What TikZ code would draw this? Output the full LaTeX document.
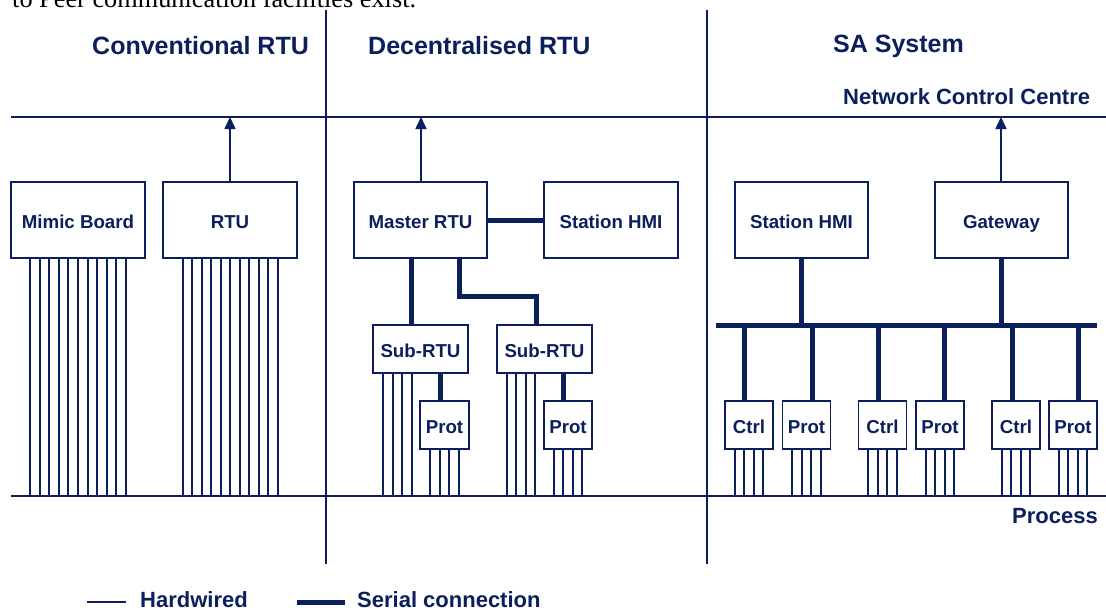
\documentclass[tikz,border=0pt]{standalone}
\usepackage{fontspec}
\setmainfont{Liberation Sans}
\newfontfamily\serifrm{Liberation Serif}
\usetikzlibrary{arrows.meta,calc}
\definecolor{navy}{HTML}{0B1F5C}
\tikzset{
  wire/.style={draw=navy, line width=1.6pt},
  serial/.style={draw=navy, line width=5pt},
  box/.style={draw=navy, line width=1.5pt, fill=white, inner sep=0pt, text=navy,
              text height=16pt, text depth=0pt,
              font=\bfseries\fontsize{18.7}{22}\selectfont},
  bigbox/.style={box, minimum width=134pt, minimum height=76pt},
  smallbox/.style={box, minimum width=48pt, minimum height=48pt},
  subbox/.style={box, minimum width=95pt, minimum height=48pt},
  ttl/.style={text=navy, font=\bfseries\fontsize{25}{30}\selectfont, inner sep=0pt},
  lbltext/.style={text=navy, font=\bfseries\fontsize{22}{26}\selectfont, inner sep=0pt},
  up/.style={wire, -{Triangle[width=11pt,length=12pt]}},
}
\newcommand\hwires[2]{\foreach \d in {#2}{\draw[wire] ($(#1.south)+(\d,0)$) -- ($(#1.south |- pL)+(\d,0)$);}}
\begin{document}
\begin{tikzpicture}[x=1pt,y=-1pt]
\useasboundingbox (0,0) rectangle (1106,613);
\clip (0,0) rectangle (1106,613);

% cut-off text at the top
\node[anchor=base west, inner sep=0pt, font=\serifrm\fontsize{26.3}{30}\selectfont] (cut) at (12,7) {to Peer communication facilities exist.};

% frame lines
\coordinate (nccL) at (11,117); \coordinate (nccR) at (1106,117);
\coordinate (pL) at (11,496);   \coordinate (pR) at (1106,496);
\coordinate (d1t) at (326,10);  \coordinate (d1b) at (326,564);
\coordinate (d2t) at (707,10);  \coordinate (d2b) at (707,564);
\draw[wire] (nccL) -- (nccR);
\draw[wire] (pL) -- (pR);
\draw[wire] (d1t) -- (d1b);
\draw[wire] (d2t) -- (d2b);

% titles
\node[ttl, anchor=base west] (t1) at (92,54) {Conventional RTU};
\node[ttl, anchor=base west] (t2) at (368,54) {Decentralised RTU};
\node[ttl, anchor=base west] (t3) at (833,52) {SA System};
\node[lbltext, anchor=base west] (ncc) at (843,104) {Network Control Centre};
\node[lbltext, anchor=base east] (proc) at (1098,523) {Process};

% big boxes
\node[bigbox] (mimic) at (78,220) {Mimic Board};
\node[bigbox] (rtu) at (230,220) {RTU};
\node[bigbox, minimum width=133pt] (master) at (420.5,220) {Master RTU};
\node[bigbox] (hmi1) at (611,220) {Station HMI};
\node[bigbox, minimum width=133pt] (hmi2) at (801.5,220) {Station HMI};
\node[bigbox, minimum width=133pt] (gw) at (1001.5,220) {Gateway};

% decentralised sub units
\node[subbox] (sub1) at (420.5,349) {Sub-RTU};
\node[subbox] (sub2) at (544.5,349) {Sub-RTU};
\node[smallbox, minimum width=49pt] (prot1) at (444.5,425) {Prot};
\node[smallbox] (prot2) at (568,425) {Prot};

% SA bay units
\node[smallbox] (c1) at (749,425) {Ctrl};
\node[smallbox] (q1) at (806.5,425) {Prot};
\node[smallbox] (c2) at (882.5,425) {Ctrl};
\node[smallbox] (q2) at (940,425) {Prot};
\node[smallbox] (c3) at (1016,425) {Ctrl};
\node[smallbox] (q3) at (1073,425) {Prot};

% arrows to network control centre
\draw[up] (rtu.north) -- (rtu.north |- nccL);
\draw[up] ($(master.north)+(0.5,0)$) coordinate (ma) -- (ma |- nccL);
\draw[up] ($(gw.north)+(-0.5,0)$) coordinate (ga) -- (ga |- nccL);

% hardwired connections
\hwires{mimic}{-48,-38,-29,-19,-10,0,10,19,29,38,48}
\hwires{rtu}{-47,-38,-28,-19,-9,0,10,19,29,38,48}
\hwires{sub1}{-37.5,-27.5,-18.5,-8.5}
\hwires{sub2}{-37.5,-28.5,-18.5,-9.5}
\foreach \n in {prot1,c2,q1}{\hwires{\n}{-14.5,-4.5,4.5,14.5}}
\foreach \n in {prot2,c1,q2,c3,q3}{\hwires{\n}{-14,-5,5,14}}

% serial connections (decentralised)
\draw[serial] (master.east) -- (hmi1.west);
\draw[serial] ($(master.south)+(-9.5,0)$) coordinate (m1) -- (m1 |- sub1.north);
\draw[serial] ($(master.south)+(38.5,0)$) -- ++(0,38) -| ($(sub2.north)+(-8.5,0)$);
\draw[serial] ($(prot1.north)+(-4.5,0)$) coordinate (p1) -- (p1 |- sub1.south);
\draw[serial] ($(prot2.north)+(-5,0)$) coordinate (p2) -- (p2 |- sub2.south);

% SA bus
\coordinate (busL) at (716,325); \coordinate (busR) at (1097,325);
\draw[serial] (busL) -- (busR);
\draw[serial] (hmi2.south) -- (hmi2.south |- busL);
\draw[serial] (gw.south) -- (gw.south |- busL);
\foreach \n/\o in {c1/-5,q1/5.5,c2/-4.5,q2/4,c3/-4,q3/5}{
  \draw[serial] ($(\n.north)+(\o,0)$) coordinate (bb) -- (bb |- busL);
}

% legend
\coordinate (hw1) at (87,602); \coordinate (hw2) at (126,602);
\coordinate (sr1) at (297,602); \coordinate (sr2) at (345,602);
\draw[wire] (hw1) -- (hw2);
\draw[serial] (sr1) -- (sr2);
\node[lbltext, anchor=base west] (lhw) at (140,607) {Hardwired};
\node[lbltext, anchor=base west] (lsr) at (357,607) {Serial connection};
\end{tikzpicture}
\end{document}
